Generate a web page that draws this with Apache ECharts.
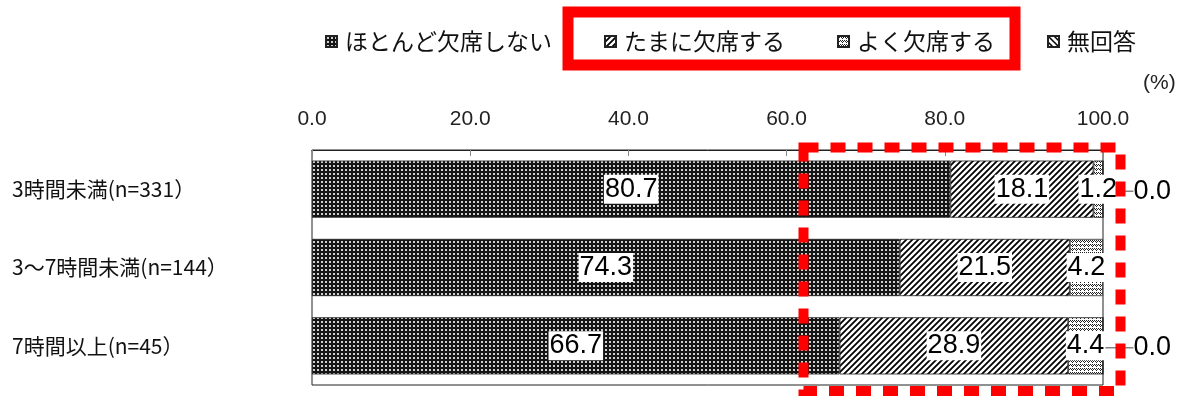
<!DOCTYPE html>
<html>
<head>
<meta charset="utf-8">
<script src="https://cdn.jsdelivr.net/npm/echarts@6/dist/echarts.min.js"></script>
<style>html,body{margin:0;padding:0;background:#fff}#c{width:1182px;height:397px}</style>
</head>
<body>
<div id="c"></div>
<script>
const categories = ['3時間未満(n=331）', '3～7時間未満(n=144）', '7時間以上(n=45）'];
const seriesNames = ['ほとんど欠席しない', 'たまに欠席する', 'よく欠席する', '無回答'];
const hardlyAbsent = [80.7, 74.3, 66.7];
const sometimesAbsent = [18.1, 21.5, 28.9];
const oftenAbsent = [1.2, 4.2, 4.4];
const noAnswer = [0.0, null, 0.0];
const xTicks = [0, 20, 40, 60, 80, 100];

function makePattern(size, draw) {
  const c = document.createElement('canvas');
  c.width = size; c.height = size;
  const g = c.getContext('2d');
  draw(g, size);
  return { image: c, repeat: 'repeat' };
}
const patDots = makePattern(4, (g, s) => {
  g.fillStyle = '#151515'; g.fillRect(0, 0, s, s);
  g.fillStyle = '#cfcfcf'; g.fillRect(1, 1, 2, 2);
});
const patSlash = makePattern(6, (g, s) => {
  g.fillStyle = '#fff'; g.fillRect(0, 0, s, s);
  g.strokeStyle = '#000'; g.lineWidth = 1.8;
  g.beginPath();
  g.moveTo(-1, s + 1); g.lineTo(s + 1, -1);
  g.moveTo(-1, 1); g.lineTo(1, -1);
  g.moveTo(s - 1, s + 1); g.lineTo(s + 1, s - 1);
  g.stroke();
});
const patCross = makePattern(4, (g, s) => {
  g.fillStyle = '#fff'; g.fillRect(0, 0, s, s);
  g.fillStyle = '#222';
  g.fillRect(0, 0, 1, 1); g.fillRect(2, 0, 1, 1);
  g.fillRect(1, 1, 1, 1); g.fillRect(3, 1, 1, 1);
  g.fillRect(0, 2, 1, 1);
});
const patBack = makePattern(6, (g, s) => {
  g.fillStyle = '#fff'; g.fillRect(0, 0, s, s);
  g.strokeStyle = '#000'; g.lineWidth = 1.5;
  g.beginPath();
  g.moveTo(-1, -1); g.lineTo(s + 1, s + 1);
  g.moveTo(s - 1, -1); g.lineTo(s + 1, 1);
  g.moveTo(-1, s - 1); g.lineTo(1, s + 1);
  g.stroke();
});

const numFont = "'Liberation Sans', Arial, sans-serif";
const jpFont = "'Noto Sans CJK JP', sans-serif";

const gridLeft = 312, gridTop = 150, gridWidth = 791, gridHeight = 235;

const innerLabel = {
  show: true, position: 'inside', color: '#000',
  fontFamily: numFont, fontSize: 27,
  backgroundColor: '#fff', padding: [2, 1, 0, 1],
  formatter: p => p.value.toFixed(1)
};

function barSeries(name, data, color, extra) {
  return Object.assign({
    name: name, type: 'bar', stack: 'total', data: data,
    barCategoryGap: '27%',
    itemStyle: { color: color, borderColor: '#222', borderWidth: 0.8 },
    label: innerLabel,
    emphasis: { disabled: true }
  }, extra || {});
}

const chart = echarts.init(document.getElementById('c'));
chart.setOption({
  animation: false,
  backgroundColor: '#fff',
  legend: {
    left: 320, top: 25,
    icon: 'rect', itemWidth: 11, itemHeight: 11, itemGap: 52,
    textStyle: { fontFamily: jpFont, fontSize: 23, color: '#111', padding: [0, 0, 0, 3] },
    data: seriesNames
  },
  grid: {
    left: gridLeft, top: gridTop, width: gridWidth, height: gridHeight,
    show: true, borderColor: '#222', borderWidth: 1, backgroundColor: 'transparent'
  },
  xAxis: {
    type: 'value', position: 'top', min: 0, max: 100, interval: 20,
    axisLine: { show: true, lineStyle: { color: '#222', width: 1 } },
    axisTick: { show: true, inside: true, length: 6, lineStyle: { color: '#888' } },
    splitLine: { show: false },
    axisLabel: {
      fontFamily: numFont, fontSize: 21, color: '#222', margin: 20,
      formatter: v => xTicks.includes(v) ? v.toFixed(1) : ''
    }
  },
  yAxis: {
    type: 'category', inverse: true, data: categories,
    axisLine: { show: false }, axisTick: { show: false },
    axisLabel: {
      align: 'left', margin: 300, fontFamily: jpFont, fontSize: 21, color: '#111'
    }
  },
  series: [
    barSeries(seriesNames[0], hardlyAbsent, patDots),
    barSeries(seriesNames[1], sometimesAbsent, patSlash),
    barSeries(seriesNames[2], oftenAbsent, patCross),
    barSeries(seriesNames[3], noAnswer, patBack, {
      label: {
        show: true, position: 'right', distance: 2, color: '#000',
        fontFamily: numFont, fontSize: 27,
        formatter: p => (p.value == null ? '' : p.value.toFixed(1))
      },
      labelLayout: { dx: 28, dy: 2 },
      labelLine: { show: true, lineStyle: { color: '#444', width: 1 } }
    })
  ],
  graphic: [
    {
      type: 'text', left: 1143, top: 73,
      style: { text: '(%)', fontFamily: numFont, fontSize: 21, fill: '#222' }
    },
    {
      type: 'rect', shape: { x: 568, y: 12, width: 447, height: 53 },
      style: { fill: 'none', stroke: '#ff0000', lineWidth: 11 }, z: 10
    },
    {
      type: 'rect', shape: { x: 803.5, y: 147.5, width: 317, height: 243.5 },
      style: { fill: 'none', stroke: '#ff0000', lineWidth: 10, lineDash: [15, 12] }, z: 10
    }
  ]
});
</script>
</body>
</html>
